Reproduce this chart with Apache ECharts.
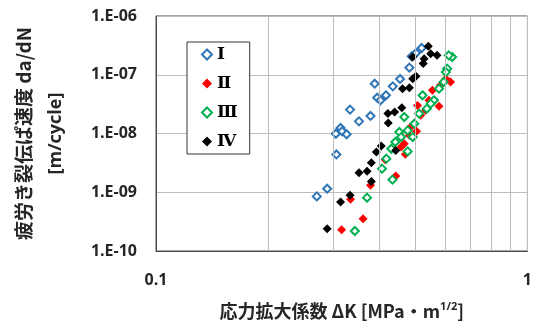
<!DOCTYPE html>
<html>
<head>
<meta charset="utf-8">
<script src="https://cdn.jsdelivr.net/npm/echarts@6/dist/echarts.min.js"></script>
<style>html,body{margin:0;padding:0;background:#fff}#c{width:535px;height:326px}</style>
</head>
<body>
<div id="c"></div>
<script>
const seriesNames = ['Ⅰ', 'Ⅱ', 'Ⅲ', 'Ⅳ'];
const xTickLabels = ['0.1', '1'];
const yTickLabels = ['1.E-10', '1.E-09', '1.E-08', '1.E-07', '1.E-06'];
const xMinorGrid = [0.2, 0.3, 0.4, 0.5, 0.6, 0.7, 0.8, 0.9];

const dataI = [[0.271,8.5e-10],[0.289,1.15e-9],[0.306,4.4e-9],[0.305,9.9e-9],[0.314,1.24e-8],[0.317,1.09e-8],[0.326,9.7e-9],[0.333,2.55e-8],[0.352,1.61e-8],[0.378,1.99e-8],[0.388,7.05e-8],[0.394,4.07e-8],[0.402,3.67e-8],[0.416,4.47e-8],[0.434,6.35e-8],[0.454,8.48e-8],[0.481,1.32e-7],[0.488,2.06e-7],[0.519,2.85e-7],[0.501,2.34e-7]];
const dataII = [[0.316,2.3e-10],[0.361,3.55e-10],[0.334,7.6e-10],[0.378,1.31e-9],[0.442,1.89e-9],[0.414,3.59e-9],[0.469,4.42e-9],[0.466,6.7e-9],[0.503,1.09e-8],[0.485,1.29e-8],[0.506,3.01e-8],[0.532,2.48e-8],[0.578,2.9e-8],[0.555,5.43e-8],[0.621,7.53e-8],[0.583,6.6e-8],[0.457,5.9e-9],[0.516,2.04e-8],[0.481,9.3e-9],[0.543,3.67e-8],[0.603,8.57e-8]];
const dataIII = [[0.343,2.19e-10],[0.370,8.1e-10],[0.406,2.52e-9],[0.433,1.64e-9],[0.417,3.73e-9],[0.441,7.16e-9],[0.476,4.96e-9],[0.466,1.91e-8],[0.452,1.06e-8],[0.491,8.7e-9],[0.496,1.47e-8],[0.522,4.47e-8],[0.536,2.65e-8],[0.560,3.67e-8],[0.595,7.53e-8],[0.608,1.27e-7],[0.627,2.0e-7],[0.614,2.14e-7],[0.603,1.11e-7],[0.476,1.13e-8],[0.511,2.18e-8],[0.430,5.5e-9],[0.457,8.7e-9],[0.578,5.8e-8],[0.549,3.22e-8]];
const dataIV = [[0.289,2.4e-10],[0.314,6.8e-10],[0.333,8.9e-10],[0.380,1.53e-9],[0.352,2.15e-9],[0.370,2.27e-9],[0.380,3.19e-9],[0.392,4.84e-9],[0.404,6.1e-9],[0.442,5.16e-9],[0.421,2.18e-8],[0.422,1.51e-8],[0.459,2.75e-8],[0.461,5.8e-8],[0.491,8.57e-8],[0.501,9.4e-8],[0.491,2.0e-7],[0.524,1.55e-7],[0.541,3.05e-7],[0.571,2.14e-7],[0.527,1.88e-7],[0.481,6.0e-8],[0.439,2.32e-8],[0.549,2.28e-7]];

const latinFont = "'Open Sans','Noto Sans CJK JP',sans-serif";
const cjkFont = "'Noto Sans CJK JP','Open Sans',sans-serif";
const gridColor = '#bdbdbd';

const chart = echarts.init(document.getElementById('c'), null, {renderer: 'canvas'});

function scatter(name, data, color, open) {
  return {
    name: name,
    type: 'scatter',
    data: data,
    symbol: 'diamond',
    symbolSize: open ? 8 : 9,
    z: 3,
    itemStyle: open
      ? {color: '#ffffff', borderColor: color, borderWidth: 2, opacity: 1}
      : {color: color, opacity: 1}
  };
}

chart.setOption({
  animation: false,
  grid: {left: 156, right: 4, top: 16, bottom: 75, show: true, borderColor: '#4d4d4d', borderWidth: 1, containLabel: false},
  legend: {
    orient: 'vertical',
    left: 187, top: 42,
    data: seriesNames.map(n => ({name: n, icon: 'diamond'})),
    itemWidth: 10, itemHeight: 10, itemGap: 12,
    padding: [4, 12, 4, 14],
    borderColor: '#333', borderWidth: 1,
    backgroundColor: '#fff',
    textStyle: {fontFamily: "'Liberation Serif','DejaVu Serif',serif", fontWeight: 'bold', fontSize: 17, color: '#000', lineHeight: 17}
  },
  xAxis: {
    type: 'log', logBase: 10, min: 0.1, max: 1, interval: 1,
    axisLine: {show: true, lineStyle: {color: '#4d4d4d'}},
    axisTick: {show: false},
    splitLine: {show: true, lineStyle: {color: gridColor, width: 1}},
    axisLabel: {margin: 21, fontFamily: latinFont, fontWeight: 'bold', fontSize: 16, color: '#262626',
      formatter: v => xTickLabels[Math.round(Math.log10(v)) + 1]},
    name: '応力拡大係数 ΔK [MPa・m{sup|1/2}]',
    nameLocation: 'middle', nameGap: 50,
    nameTextStyle: {fontFamily: cjkFont, fontWeight: 'bold', fontSize: 18, color: '#262626',
      rich: {sup: {fontFamily: latinFont, fontWeight: 'bold', fontSize: 11, verticalAlign: 'top', padding: [0,0,9,0], color: '#262626'}}}
  },
  yAxis: {
    type: 'log', logBase: 10, min: 1e-10, max: 1e-6, interval: 1,
    axisLine: {show: true, lineStyle: {color: '#4d4d4d'}},
    axisTick: {show: false},
    splitLine: {show: true, lineStyle: {color: gridColor, width: 1}},
    axisLabel: {margin: 19, fontFamily: latinFont, fontWeight: 'bold', fontSize: 16, color: '#262626',
      formatter: v => yTickLabels[Math.round(Math.log10(v)) + 10]},
    name: '{a|疲労き裂伝ぱ速度 da/dN}\n{b|[m/cycle]}',
    nameLocation: 'middle', nameRotate: 90, nameGap: 84,
    nameTextStyle: {
      rich: {
        a: {fontFamily: cjkFont, fontWeight: 'bold', fontSize: 19, lineHeight: 32, color: '#262626'},
        b: {fontFamily: latinFont, fontWeight: 'bold', fontSize: 18, lineHeight: 32, color: '#262626'}
      }
    }
  },
  series: [
    {
      name: 'grid', type: 'line', data: [], z: 1, silent: true,
      markLine: {
        silent: true, symbol: 'none', animation: false,
        label: {show: false},
        lineStyle: {color: gridColor, width: 1, type: 'solid'},
        data: xMinorGrid.map(v => ({xAxis: v}))
      }
    },
    scatter(seriesNames[0], dataI, '#2E75B6', true),
    scatter(seriesNames[1], dataII, '#FF0000', false),
    scatter(seriesNames[2], dataIII, '#00B050', true),
    scatter(seriesNames[3], dataIV, '#000000', false)
  ]
});
</script>
</body>
</html>
